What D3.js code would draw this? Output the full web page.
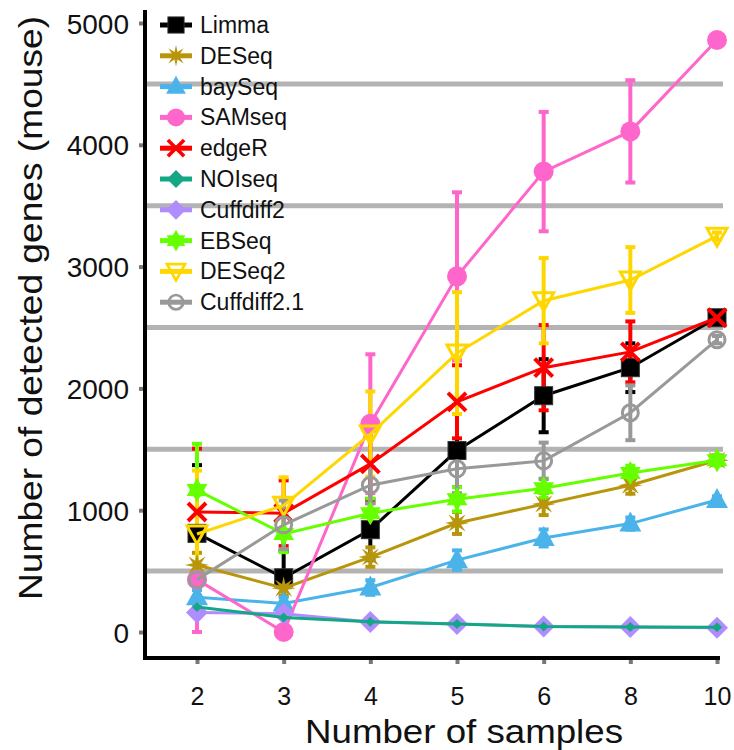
<!DOCTYPE html>
<html>
<meta charset="utf-8">
<head>
<script src="https://cdn.jsdelivr.net/npm/d3@7"></script>
<style>
  body { margin: 0; background: #fff; }
  text { font-family: "Liberation Sans", Arial, sans-serif; }
</style>
</head>
<body>
<div id="chart"></div>
<script>
// sample sizes on the x axis
var samples = ["2", "3", "4", "5", "6", "8", "10"];
var yTicks = [0, 1000, 2000, 3000, 4000, 5000];
var gridVals = [500, 1500, 2500, 3500, 4500];

var methods = ["Limma", "DESeq", "baySeq", "SAMseq", "edgeR", "NOIseq", "Cuffdiff2", "EBSeq", "DESeq2", "Cuffdiff2.1"];

// mean number of detected genes
var limma     = [810, 445, 840, 1490, 1940, 2170, 2580];
var deseq     = [550, 360, 615, 895, 1050, 1205, 1410];
var bayseq    = [285, 235, 365, 590, 772, 890, 1084];
var samseq    = [430, 0, 1710, 2920, 3780, 4110, 4860];
var edger     = [985, 975, 1380, 1890, 2170, 2300, 2580];
var noiseq    = [205, 120, 85, 65, 45, 42, 38];
var cuffdiff2 = [160, 150, 82, 65, 45, 42, 35];
var ebseq     = [1165, 805, 975, 1090, 1180, 1305, 1410];
var deseq2    = [805, 1040, 1625, 2290, 2720, 2890, 3250];
var cuffdiff21 = [430, 880, 1205, 1340, 1405, 1800, 2400];

// error bar half widths (sd)
var limmaErr     = [560, 220, 250, 300, 300, 200, 40];
var deseqErr     = [100, 60, 80, 90, 90, 70, 40];
var bayseqErr    = [60, 50, 60, 80, 70, 50, 30];
var samseqErr    = [430, 0, 570, 690, 490, 420, 0];
var edgerErr     = [520, 270, 320, 300, 350, 250, 40];
var noiseqErr    = [0, 0, 0, 0, 0, 0, 0];
var cuffdiff2Err = [0, 0, 0, 0, 0, 0, 0];
var ebseqErr     = [380, 150, 120, 100, 80, 60, 40];
var deseq2Err    = [520, 230, 350, 500, 350, 270, 30];
var cuffdiff21Err = [0, 200, 150, 200, 150, 225, 30];

var series = [
  {name: "Limma", vals: limma, err: limmaErr, color: "#000000", shape: "square"},
  {name: "DESeq", vals: deseq, err: deseqErr, color: "#b8960c", shape: "asterisk"},
  {name: "baySeq", vals: bayseq, err: bayseqErr, color: "#4ab4ea", shape: "triangle"},
  {name: "SAMseq", vals: samseq, err: samseqErr, color: "#ff66cc", shape: "circle"},
  {name: "edgeR", vals: edger, err: edgerErr, color: "#ff0000", shape: "x"},
  {name: "Cuffdiff2", vals: cuffdiff2, err: cuffdiff2Err, color: "#b08cff", shape: "diamond"},
  {name: "NOIseq", vals: noiseq, err: noiseqErr, color: "#12a884", shape: "smalldiamond"},
  {name: "EBSeq", vals: ebseq, err: ebseqErr, color: "#66ff00", shape: "star6"},
  {name: "DESeq2", vals: deseq2, err: deseq2Err, color: "#ffd700", shape: "downtri"},
  {name: "Cuffdiff2.1", vals: cuffdiff21, err: cuffdiff21Err, color: "#999999", shape: "ocircle"}
];
var byName = {};
series.forEach(function(s) { byName[s.name] = s; });

var W = 734, H = 750;
var svg = d3.select("#chart").append("svg").attr("width", W).attr("height", H);

var x = d3.scalePoint().domain(samples).range([197, 717]);
var y = d3.scaleLinear().domain([0, 5000]).range([632, 23]);

// grey horizontal bands
svg.selectAll(".grid").data(gridVals).enter().append("line")
  .attr("x1", 147).attr("x2", 723)
  .attr("y1", function(d) { return y(d); }).attr("y2", function(d) { return y(d); })
  .attr("stroke", "#b3b3b3").attr("stroke-width", 5);

// y axis
var yAxis = d3.axisLeft(y).tickValues(yTicks).tickFormat(d3.format("d")).tickSize(6).tickPadding(10);
var gy = svg.append("g").attr("transform", "translate(145,0)").call(yAxis);
gy.select(".domain").remove();
gy.selectAll(".tick line").attr("stroke", "#777").attr("stroke-width", 4).attr("x1", -1).attr("x2", -6);
gy.selectAll(".tick text").attr("font-size", 28).attr("fill", "#111").attr("x", -16).attr("dy", "0.36em")
  .style("font-family", "Liberation Sans, Arial, sans-serif");

// x axis
var xAxis = d3.axisBottom(x).tickSize(6).tickPadding(14);
var gx = svg.append("g").attr("transform", "translate(0,658)").call(xAxis);
gx.select(".domain").remove();
gx.selectAll(".tick line").attr("stroke", "#777").attr("stroke-width", 4).attr("y1", 1).attr("y2", 6);
gx.selectAll(".tick text").attr("font-size", 25).attr("fill", "#111").attr("y", 47).attr("dy", null)
  .style("font-family", "Liberation Sans, Arial, sans-serif");

// axis lines
svg.append("path").attr("d", "M145,10V658H720")
  .attr("fill", "none").attr("stroke", "#000").attr("stroke-width", 4);

svg.append("text").attr("x", 464).attr("y", 743).attr("text-anchor", "middle")
  .attr("font-size", 34).attr("textLength", 318).attr("lengthAdjust", "spacingAndGlyphs")
  .attr("fill", "#111").text("Number of samples");
svg.append("text").attr("transform", "translate(42,308) rotate(-90)").attr("text-anchor", "middle")
  .attr("font-size", 33).attr("textLength", 584).attr("lengthAdjust", "spacingAndGlyphs")
  .attr("fill", "#111").text("Number of detected genes (mouse)");

function starPath(n, r1, r2) {
  var p = [];
  for (var i = 0; i < n * 2; i++) {
    var r = i % 2 == 0 ? r1 : r2;
    var a = Math.PI * i / n - Math.PI / 2;
    p.push([r * Math.cos(a), r * Math.sin(a)]);
  }
  return "M" + p.join("L") + "Z";
}

function drawMarker(g, shape, color) {
  if (shape == "square") {
    g.append("rect").attr("x", -9).attr("y", -9).attr("width", 18).attr("height", 18)
      .attr("fill", color).attr("stroke", "#333").attr("stroke-width", 1);
  } else if (shape == "asterisk") {
    g.append("path").attr("d", starPath(8, 12, 4.5)).attr("fill", color);
  } else if (shape == "triangle") {
    g.append("path").attr("d", "M0,-12L11,8L-11,8Z").attr("fill", color);
  } else if (shape == "circle") {
    g.append("circle").attr("r", 10).attr("fill", color);
  } else if (shape == "x") {
    g.append("path").attr("d", "M-9,-9L9,9M-9,9L9,-9").attr("stroke", color).attr("stroke-width", 4);
  } else if (shape == "diamond") {
    g.append("path").attr("d", "M0,-11L11,0L0,11L-11,0Z").attr("fill", color);
  } else if (shape == "smalldiamond") {
    g.append("path").attr("d", "M0,-5L5,0L0,5L-5,0Z").attr("fill", color);
  } else if (shape == "star6") {
    g.append("path").attr("d", starPath(6, 12, 7)).attr("fill", color);
  } else if (shape == "downtri") {
    g.append("path").attr("d", "M-10,-8L10,-8L0,10Z").attr("fill", "none").attr("stroke", color).attr("stroke-width", 3);
  } else if (shape == "ocircle") {
    g.append("circle").attr("r", 8).attr("fill", "none").attr("stroke", color).attr("stroke-width", 3);
  }
}

var line = d3.line().x(function(d, i) { return x(samples[i]); }).y(function(d) { return y(d); });

// error bars first
series.forEach(function(s) {
  var g = svg.append("g");
  s.vals.forEach(function(v, i) {
    var e = s.err[i];
    if (!e) return;
    var cx = x(samples[i]);
    var lo = Math.max(0, v - e), hi = v + e;
    g.append("line").attr("x1", cx).attr("x2", cx).attr("y1", y(lo)).attr("y2", y(hi))
      .attr("stroke", s.color).attr("stroke-width", 4);
    [lo, hi].forEach(function(b) {
      g.append("line").attr("x1", cx - 5).attr("x2", cx + 5).attr("y1", y(b)).attr("y2", y(b))
        .attr("stroke", s.color).attr("stroke-width", 4);
    });
  });
});

// lines and markers
series.forEach(function(s) {
  svg.append("path").datum(s.vals).attr("d", line)
    .attr("fill", "none").attr("stroke", s.color).attr("stroke-width", 3);
  s.vals.forEach(function(v, i) {
    var g = svg.append("g").attr("transform", "translate(" + x(samples[i]) + "," + y(v) + ")");
    drawMarker(g, s.shape, s.color);
  });
});

// legend
var lg = svg.append("g");
methods.forEach(function(m, i) {
  var s = byName[m];
  var ly = 25 + i * 30.8;
  lg.append("line").attr("x1", 160).attr("x2", 192).attr("y1", ly).attr("y2", ly)
    .attr("stroke", s.color).attr("stroke-width", 5);
  var mg = lg.append("g").attr("transform", "translate(176," + ly + ") scale(0.9)");
  if (s.name == "NOIseq") {
    mg.append("path").attr("d", "M0,-10L10,0L0,10L-10,0Z").attr("fill", s.color);
  } else {
    drawMarker(mg, s.shape, s.color);
  }
  lg.append("text").attr("x", 200).attr("y", ly + 8).attr("font-size", 23).attr("fill", "#111").text(m);
});
</script>
</body>
</html>
